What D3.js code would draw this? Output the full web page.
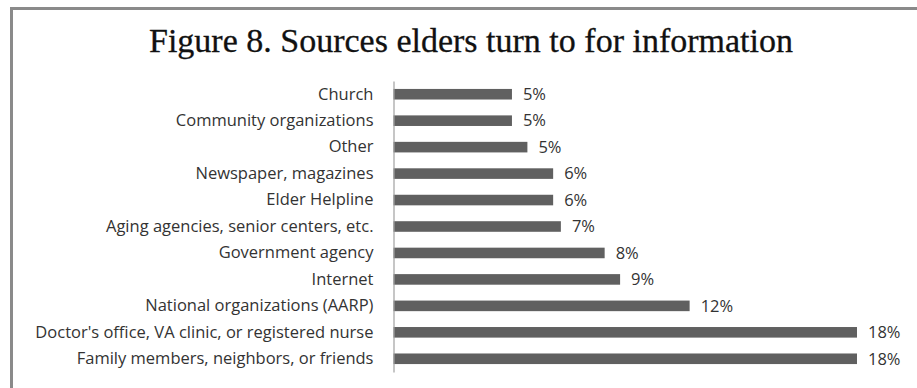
<!DOCTYPE html>
<html>
<head>
<meta charset="utf-8">
<script src="https://cdn.jsdelivr.net/npm/d3@7"></script>
<style>
  html, body { margin: 0; padding: 0; background: #fff; }
  svg { display: block; }
</style>
</head>
<body>
<script>
// Sources elders turn to for information (share of respondents, %)
const categories = [
  "Church",
  "Community organizations",
  "Other",
  "Newspaper, magazines",
  "Elder Helpline",
  "Aging agencies, senior centers, etc.",
  "Government agency",
  "Internet",
  "National organizations (AARP)",
  "Doctor's office, VA clinic, or registered nurse",
  "Family members, neighbors, or friends"
];
const values = [4.6, 4.6, 5.2, 6.2, 6.2, 6.5, 8.2, 8.8, 11.5, 18.0, 18.0];
const titleText = "Figure 8. Sources elders turn to for information";

const W = 917, H = 388;
const svg = d3.select("body").append("svg").attr("width", W).attr("height", H);

// frame (left and top edges visible)
svg.append("path")
  .attr("d", `M11.5,${H} L11.5,8.5 L${W},8.5`)
  .attr("fill", "none").attr("stroke", "#8a8a8a").attr("stroke-width", 3);

svg.append("text")
  .attr("x", 471).attr("y", 52)
  .attr("text-anchor", "middle")
  .attr("font-family", "Liberation Serif, serif")
  .attr("font-size", 34)
  .attr("fill", "#111")
  .attr("stroke", "#111").attr("stroke-width", 0.3)
  .text(titleText);

const x0 = 393.5;
const x = d3.scaleLinear().domain([0, 18]).range([x0, 857]);
const y = d3.scaleBand().domain(categories).range([81, 372])
  .paddingInner(0.6).paddingOuter(0.3);

const fmt = v => d3.format(".0f")(v) + "%";

svg.append("g").selectAll("rect").data(values).join("rect")
  .attr("x", x(0))
  .attr("y", (d, i) => y(categories[i]))
  .attr("width", d => x(d) - x(0))
  .attr("height", y.bandwidth())
  .attr("fill", "#606060");

svg.append("g").selectAll("text").data(values).join("text")
  .attr("x", d => x(d) + 11)
  .attr("y", (d, i) => y(categories[i]) + y.bandwidth() / 2)
  .attr("dy", "0.35em")
  .attr("font-family", "Open Sans, sans-serif")
  .attr("font-size", 16.5)
  .attr("fill", "#333")
  .text(d => fmt(d));

// category axis
const axis = svg.append("g").attr("transform", `translate(${x0},0)`)
  .call(d3.axisLeft(y).tickSize(0).tickPadding(20));
axis.select(".domain").attr("stroke", "#a0a0a0").attr("stroke-width", 1.2);
axis.selectAll("text")
  .attr("font-family", "Open Sans, sans-serif")
  .attr("font-size", 16.5)
  .attr("fill", "#333");
</script>
</body>
</html>
